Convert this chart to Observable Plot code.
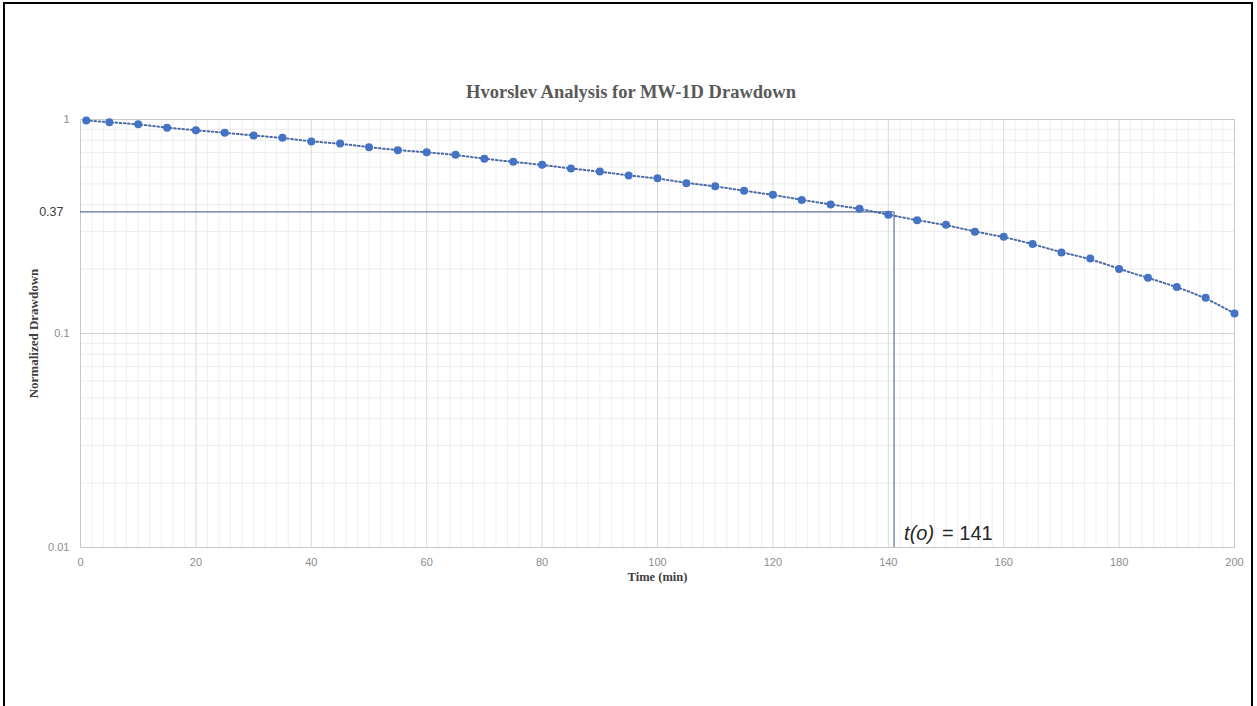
<!DOCTYPE html>
<html>
<head>
<meta charset="utf-8">
<script src="https://cdn.jsdelivr.net/npm/d3@7"></script>
<script src="https://cdn.jsdelivr.net/npm/@observablehq/plot@0.6"></script>
<style>
  html, body { margin: 0; padding: 0; background: #fff; overflow: hidden; width: 1257px; height: 706px; }
  #border { position: absolute; left: 3px; top: 2px; width: 1250px; height: 800px; border: 2px solid #000; box-sizing: border-box; }
  #chart { position: absolute; left: 0; top: 0; }
  #title { position: absolute; left: 631px; top: 82px; transform: translateX(-50%); white-space: nowrap;
           font-family: "Liberation Serif", "DejaVu Serif", serif; font-weight: bold; font-size: 18.5px; color: #595959; }
</style>
</head>
<body>
<div id="border"></div>
<div id="chart"></div>
<div id="title">Hvorslev Analysis for MW-1D Drawdown</div>
<script>
// ---- data ----
const times = [1, 5, 10, 15, 20, 25, 30, 35, 40, 45, 50, 55, 60, 65, 70, 75, 80, 85, 90, 95, 100,
               105, 110, 115, 120, 125, 130, 135, 140, 145, 150, 155, 160, 165, 170, 175, 180, 185, 190, 195, 200];
const drawdown = [0.99, 0.971, 0.951, 0.915, 0.891, 0.867, 0.842, 0.821, 0.789, 0.772, 0.742, 0.719, 0.703,
                  0.684, 0.655, 0.634, 0.614, 0.590, 0.571, 0.547, 0.532, 0.504, 0.488, 0.464, 0.445, 0.421,
                  0.401, 0.383, 0.359, 0.338, 0.322, 0.299, 0.283, 0.262, 0.239, 0.224, 0.200, 0.182, 0.165,
                  0.147, 0.124];
const xTicks = [0, 20, 40, 60, 80, 100, 120, 140, 160, 180, 200];
const yTicks = [1, 0.1, 0.01];
const threshold = 0.37;
const tZero = 141;
const annotationVar = "t(o)";
const annotationVal = "= 141";

const data = times.map((t, i) => ({t, v: drawdown[i]}));

// gridline positions
const xMinor = d3.range(0, 201, 2).filter(d => d % 20 !== 0);
const yMinor = [];
for (const dec of [0.01, 0.1]) for (let k = 2; k <= 9; k++) yMinor.push(+(dec * k).toFixed(4));

const tickFont = "'Liberation Sans', Arial, sans-serif";
const serif = "'Liberation Serif', 'DejaVu Serif', serif";

const chart = Plot.plot({
  width: 1257,
  height: 706,
  marginLeft: 80,
  marginRight: 23,
  marginTop: 119,
  marginBottom: 159,
  style: {background: "transparent", fontFamily: tickFont},
  x: {domain: [0, 200], ticks: xTicks},
  y: {type: "log", domain: [0.01, 1], ticks: yTicks},
  marks: [
    Plot.ruleX(xMinor, {stroke: "#efefef", strokeWidth: 1}),
    Plot.ruleY(yMinor, {stroke: "#ececec", strokeWidth: 1}),
    Plot.ruleX(xTicks, {stroke: "#d9d9d9", strokeWidth: 1}),
    Plot.ruleY(yTicks, {stroke: "#d0d0d0", strokeWidth: 1}),
    Plot.frame({stroke: "#c8c8c8", strokeWidth: 1}),
    Plot.axisX(xTicks, {tickSize: 0, tickPadding: 11, fontSize: 11, fill: "#8c8c8c", label: null}),
    Plot.axisY(yTicks, {tickSize: 0, tickPadding: 11, fontSize: 11, fill: "#8c8c8c", label: null,
                        tickFormat: d => String(d)}),
    Plot.text([threshold], {x: 0, y: d => d, text: d => String(d), dx: -17, textAnchor: "end",
                            fontSize: 12.5, fill: "#404040", fontFamily: tickFont}),
    Plot.text(["Time (min)"], {frameAnchor: "bottom", dy: 33, fontSize: 12.5, fontWeight: "bold",
                               fontFamily: serif, fill: "#404040"}),
    Plot.text(["Normalized Drawdown"], {frameAnchor: "left", dx: -47, rotate: -90, textAnchor: "middle",
                                        fontSize: 13, fontWeight: "bold", fontFamily: serif, fill: "#404040"}),
    // reference lines
    Plot.ruleY([threshold], {x1: 0, x2: tZero, stroke: "#5b7296", strokeWidth: 1.2}),
    Plot.ruleX([tZero], {y1: 0.01, y2: threshold, stroke: "#5b7296", strokeWidth: 1.2}),
    // dotted trendline
    Plot.line(data, {x: "t", y: "v", curve: "basis", stroke: "#4a6aa5", strokeWidth: 2,
                     strokeDasharray: "1.6,2.6"}),
    Plot.dot(data, {x: "t", y: "v", r: 4, fill: "#4472C4", stroke: "none"}),
    // annotation
    Plot.text([annotationVar], {x: tZero, y: 0.01, dx: 10, dy: -14, textAnchor: "start", fontSize: 20,
                                fontStyle: "italic", fill: "#262626", fontFamily: tickFont}),
    Plot.text([annotationVal], {x: tZero, y: 0.01, dx: 48, dy: -14, textAnchor: "start", fontSize: 20,
                                fill: "#262626", fontFamily: tickFont})
  ]
});
document.getElementById("chart").appendChild(chart);
</script>
</body>
</html>
